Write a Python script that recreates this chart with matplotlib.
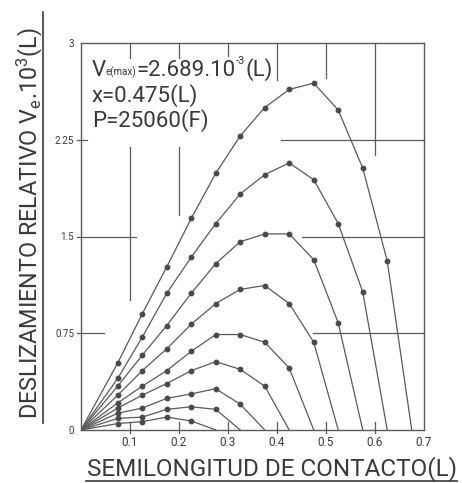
import numpy as np
import matplotlib
matplotlib.use("Agg")
import matplotlib.pyplot as plt

# ---- data -------------------------------------------------------------
# each curve: relative slip values at x = 0.075, 0.125, ... ; every curve
# starts at the origin and returns to zero at its contact half-length
curve_ends = [0.275, 0.325, 0.375, 0.425, 0.475, 0.525, 0.575, 0.625, 0.675]
slip_1 = [0.05, 0.065, 0.10, 0.07]
slip_2 = [0.09, 0.10, 0.16, 0.18, 0.16]
slip_3 = [0.13, 0.17, 0.245, 0.28, 0.32, 0.20]
slip_4 = [0.17, 0.27, 0.36, 0.46, 0.53, 0.47, 0.34]
slip_5 = [0.21, 0.34, 0.46, 0.61, 0.74, 0.74, 0.68, 0.48]
slip_6 = [0.27, 0.46, 0.63, 0.82, 0.98, 1.09, 1.12, 0.98, 0.68]
slip_7 = [0.34, 0.58, 0.81, 1.06, 1.29, 1.46, 1.52, 1.52, 1.32, 0.83]
slip_8 = [0.40, 0.72, 1.06, 1.34, 1.60, 1.83, 1.98, 2.07, 1.94, 1.60, 1.07]
slip_9 = [0.52, 0.90, 1.265, 1.64, 1.99, 2.28, 2.50, 2.64, 2.689, 2.48, 2.03, 1.31]
slip_curves = [slip_1, slip_2, slip_3, slip_4, slip_5, slip_6, slip_7, slip_8, slip_9]
first_x = 0.075
x_step = 0.05

x_ticks = [0.1, 0.2, 0.3, 0.4, 0.5, 0.6, 0.7]
x_tick_labels = ["0.1", "0.2", "0.3", "0.4", "0.5", "0.6", "0.7"]
y_ticks = [0, 0.75, 1.5, 2.25, 3]
y_tick_labels = ["0", "0.75", "1.5", "2.25", "3"]

v_max = 2.689
x_at_max = 0.475
load_p = 25060

# ---- style ------------------------------------------------------------
plt.rcParams["font.family"] = ["Roboto", "DejaVu Sans"]
plt.rcParams["mathtext.fontset"] = "custom"
plt.rcParams["mathtext.rm"] = "Roboto"
plt.rcParams["mathtext.it"] = "Roboto"
ink = "#3a3a3a"
line_ink = "#5a5a5a"

fig = plt.figure(figsize=(4.62, 4.83), dpi=100)
fig.patch.set_facecolor("white")
ax = fig.add_axes([81 / 462, 53 / 483, 343 / 462, 387 / 483])
ax.set_xlim(0, 0.7)
ax.set_ylim(0, 3)
for s in ax.spines.values():
    s.set_color(line_ink)
    s.set_linewidth(1.0)
ax.tick_params(length=0, colors=ink)
ax.set_xticks(x_ticks)
ax.set_xticklabels(x_tick_labels, fontsize=8.5, color=ink)
ax.set_yticks(y_ticks)
ax.set_yticklabels(y_tick_labels, fontsize=7, color=ink)
ax.tick_params(axis="x", pad=4)
ax.tick_params(axis="y", pad=5)

# partial reference lines drawn by hand in the chart field
grid_kw = dict(color=line_ink, lw=0.9, clip_on=False, zorder=1)
vertical_segments = [
    (0.1, 2.88, 3.0), (0.2, 2.88, 3.0), (0.3, 2.90, 3.0), (0.4, 2.71, 3.0),
    (0.5, 2.73, 3.0), (0.6, 2.13, 3.0),
    (0.1, 1.01, 2.19), (0.2, 1.67, 2.19),
]
for xv, y0, y1 in vertical_segments:
    ax.plot([xv, xv], [y0, y1], **grid_kw)
for xv in [0.1, 0.2, 0.3, 0.4, 0.5, 0.6]:
    ax.plot([xv, xv], [-0.02, 0.06], **grid_kw)
horizontal_segments = [
    (2.25, -0.008, 0.013), (2.25, 0.408, 0.7),
    (1.5, -0.008, 0.113), (1.5, 0.451, 0.7),
    (0.75, -0.008, 0.046), (0.75, 0.474, 0.7),
]
for yv, x0, x1 in horizontal_segments:
    ax.plot([x0, x1], [yv, yv], **grid_kw)

# the family of slip curves
for end, vals in zip(curve_ends, slip_curves):
    xs = [0.0] + [first_x + x_step * k for k in range(len(vals))] + [end]
    ys = [0.0] + list(vals) + [0.0]
    ax.plot(xs, ys, color=line_ink, lw=0.9, zorder=3)
    ax.plot(xs[1:-1], ys[1:-1], "o", ms=3.2, color="#4a4a4a", zorder=4)

# maximum slip annotation; the first line is chained piece by piece so the
# subscript and exponent stay small
big = 16
t_v = ax.text(0.022, 2.745, "V", fontsize=big, color=ink, va="baseline", ha="left")
t_sub = ax.annotate("e(max)", xy=(1.0, 0.12), xycoords=t_v, fontsize=7,
                    color=ink, va="bottom", ha="left")
t_num = ax.annotate("=%.3f.10" % v_max, xy=(1.0, 0.0), xycoords=(t_sub, t_v),
                    fontsize=big, color=ink, va="bottom", ha="left")
t_exp = ax.annotate("-3", xy=(1.0, 0.72), xycoords=(t_num, t_v), fontsize=8,
                    color=ink, va="bottom", ha="left")
ax.annotate("(L)", xy=(1.0, 0.0), xycoords=(t_exp, t_v), fontsize=big,
            color=ink, va="bottom", ha="left")
ax.text(0.022, 2.545, "x=%.3f(L)" % x_at_max, fontsize=big, color=ink,
        va="baseline", ha="left")
ax.text(0.022, 2.35, "P=%d(F)" % load_p, fontsize=big, color=ink,
        va="baseline", ha="left")

# axis titles with underline
fig.text(272 / 462, 1 - 469 / 483, "SEMILONGITUD DE CONTACTO(L)",
         fontsize=17.5, color=ink, ha="center", va="center")
fig.add_artist(plt.Line2D([86 / 462, 457 / 462], [1 - 481 / 483] * 2,
                          color=ink, lw=1.2))
fig.text(30 / 462, 1 - 223 / 483,
         r"DESLIZAMIENTO RELATIVO V$_{\mathregular{e}}$.10$^{\mathregular{3}}$(L)",
         fontsize=16.8, color=ink, ha="center", va="center", rotation=90)
fig.add_artist(plt.Line2D([43 / 462] * 2, [1 - 423 / 483, 1 - 12 / 483],
                          color=ink, lw=1.2))

fig.savefig("out.png", dpi=100, facecolor="white")
